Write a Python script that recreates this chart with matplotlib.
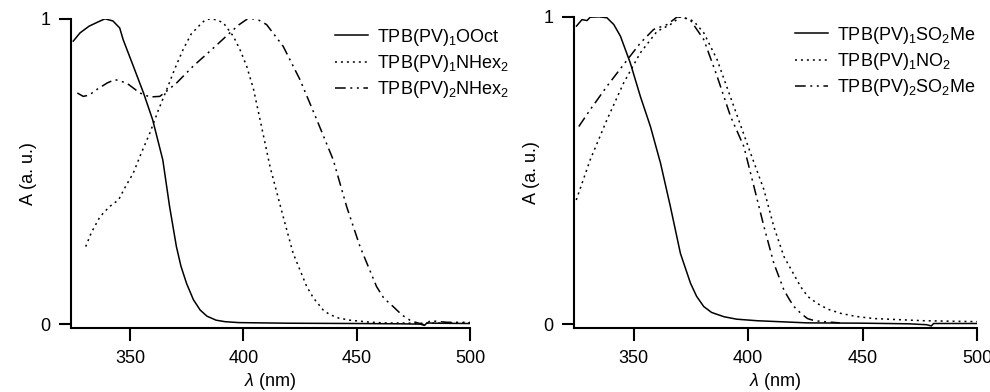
import matplotlib
matplotlib.use("Agg")
import matplotlib.pyplot as plt

plt.rcParams['font.family'] = ['Liberation Sans', 'DejaVu Sans']
plt.rcParams['mathtext.fontset'] = 'custom'
plt.rcParams['mathtext.rm'] = 'Liberation Sans'
plt.rcParams['mathtext.it'] = 'Liberation Sans:italic'
plt.rcParams['mathtext.bf'] = 'Liberation Sans:bold'

# --- left panel: TPB(PV)1OOct, TPB(PV)1NHex2, TPB(PV)2NHex2 ---
ooct_x = [325, 328, 332, 336, 339, 342.5, 345.5, 347, 351.5, 356, 360, 364.5, 367.5, 370.5, 372.5,
          375, 378, 381, 384, 388, 392, 398, 420, 450, 470, 478, 480, 481, 485, 500]
ooct_y = [0.927, 0.954, 0.976, 0.99, 1.0, 0.993, 0.97, 0.932, 0.845, 0.757, 0.67, 0.538, 0.385,
          0.254, 0.19, 0.133, 0.08, 0.046, 0.026, 0.013, 0.008, 0.005, 0.003, 0.002, 0.001, 0.0,
          -0.004, 0.004, 0.003, 0.002]

nhex1_x = [330.5, 333, 336.8, 341, 345, 348, 351.5, 355, 358.8, 362.5, 366.2, 370, 373.5, 377, 381,
           383, 385.3, 388, 391.2, 395.6, 398.5, 401.5, 404.5, 407.4, 411.8, 417.6, 422, 428, 431,
           435.3, 438, 442, 447, 455, 462, 480, 500]
nhex1_y = [0.254, 0.3, 0.352, 0.385, 0.407, 0.45, 0.495, 0.56, 0.626, 0.7, 0.768, 0.84, 0.9, 0.95,
           0.981, 0.995, 1.0, 0.997, 0.987, 0.943, 0.9, 0.845, 0.77, 0.67, 0.516, 0.352, 0.232,
           0.123, 0.085, 0.046, 0.032, 0.02, 0.013, 0.007, 0.004, 0.003, 0.004]

nhex2_x = [326.8, 329.4, 332, 335.3, 340, 343.4, 348.5, 354.4, 358.8, 363.2, 366.5, 370.6, 377.9,
           385.3, 394.1, 398, 401.5, 404.4, 407, 410.3, 417.6, 425, 432.4, 439.7, 445.6, 451.5,
           458.8, 462, 466.2, 470, 473.5, 476, 478, 480.1, 482.4, 490, 500]
nhex2_y = [0.757, 0.746, 0.75, 0.768, 0.79, 0.801, 0.79, 0.757, 0.744, 0.746, 0.765, 0.79, 0.845,
           0.894, 0.954, 0.98, 0.998, 1.0, 0.995, 0.981, 0.91, 0.801, 0.67, 0.538, 0.385, 0.254,
           0.123, 0.085, 0.057, 0.03, 0.013, 0.006, 0.002, -0.003, 0.011, 0.006, 0.006]

# --- right panel: TPB(PV)1SO2Me, TPB(PV)1NO2, TPB(PV)2SO2Me ---
so2me1_x = [325, 327.4, 329.6, 331, 335, 338.3, 341.3, 344.2, 348.5, 352.9, 357.3, 361.7, 366,
            370.4, 374.8, 377.5, 380.6, 384, 389.4, 395, 403.9, 425.8, 450, 470, 478, 480, 481,
            490, 500]
so2me1_y = [0.97, 0.991, 0.988, 0.999, 1.0, 0.997, 0.975, 0.937, 0.85, 0.741, 0.643, 0.524, 0.383,
            0.23, 0.133, 0.09, 0.057, 0.038, 0.024, 0.016, 0.011, 0.004, 0.003, 0.001, -0.002,
            -0.006, 0.002, 0.002, 0.002]

no2_x = [324.9, 331, 338.3, 345.6, 352.9, 360.2, 366, 370.4, 373, 376.2, 380.6, 386.4, 393.7, 401,
         406.9, 411.2, 415.6, 422.9, 426, 430.2, 435, 440.4, 447, 455, 476.8, 500]
no2_y = [0.404, 0.535, 0.665, 0.785, 0.883, 0.953, 0.975, 1.0, 0.995, 0.986, 0.948, 0.861, 0.709,
         0.557, 0.437, 0.317, 0.22, 0.122, 0.09, 0.067, 0.048, 0.035, 0.025, 0.018, 0.011, 0.008]

so2me2_x = [326, 331, 338.3, 345.6, 352.9, 358.7, 364.6, 369, 372, 374.8, 380.6, 386.4, 392.3,
            398.1, 402.5, 406.9, 411.2, 415.6, 418, 420, 423, 425.9, 429, 433.1, 440]
so2me2_y = [0.643, 0.698, 0.774, 0.845, 0.915, 0.959, 0.975, 1.0, 0.997, 0.989, 0.926, 0.807,
            0.676, 0.578, 0.448, 0.317, 0.198, 0.111, 0.08, 0.057, 0.035, 0.018, 0.011, 0.008,
            0.004]

left_labels = ['TPB(PV)$_1$OOct', 'TPB(PV)$_1$NHex$_2$', 'TPB(PV)$_2$NHex$_2$']
right_labels = ['TPB(PV)$_1$SO$_2$Me', 'TPB(PV)$_1$NO$_2$', 'TPB(PV)$_2$SO$_2$Me']

x_ticks = [350, 400, 450, 500]
y_ticks = [0, 1]

solid = '-'
dotted = (0, (1.3, 2.6))
dashdot = (0, (7, 3, 1.3, 3, 1.3, 3))

fig = plt.figure(figsize=(9.9, 3.92), dpi=100)
ax1 = fig.add_axes([0.0717, 0.163, 0.403, 0.789])
ax2 = fig.add_axes([0.580, 0.163, 0.407, 0.794])


def style(ax):
    for s in ['top', 'right']:
        ax.spines[s].set_visible(False)
    for s in ['left', 'bottom']:
        ax.spines[s].set_linewidth(1.5)
    ax.set_xlim(324, 500)
    ax.set_ylim(-0.013, 1.0)
    ax.set_xticks(x_ticks)
    ax.set_yticks(y_ticks)
    ax.tick_params(direction='out', length=9, width=1.5, labelsize=13)
    ax.tick_params(axis='x', pad=7)
    ax.tick_params(axis='y', pad=6)
    ax.set_xlabel(r'$\lambda$ (nm)', fontsize=13, labelpad=3)
    ax.set_ylabel('A (a. u.)', fontsize=13, labelpad=2)


lw = 1.1
ax1.plot(ooct_x, ooct_y, color='black', lw=lw, linestyle=solid, label=left_labels[0])
ax1.plot(nhex1_x, nhex1_y, color='black', lw=lw, linestyle=dotted, label=left_labels[1])
ax1.plot(nhex2_x, nhex2_y, color='black', lw=lw, linestyle=dashdot, label=left_labels[2])
style(ax1)
ax1.legend(loc='upper left', bbox_to_anchor=(0.662, 0.975), frameon=False, fontsize=13,
           handlelength=1.8, handletextpad=0.5, labelspacing=0.3, borderpad=0, borderaxespad=0)

ax2.plot(so2me1_x, so2me1_y, color='black', lw=lw, linestyle=solid, label=right_labels[0])
ax2.plot(no2_x, no2_y, color='black', lw=lw, linestyle=dotted, label=right_labels[1])
ax2.plot(so2me2_x, so2me2_y, color='black', lw=lw, linestyle=dashdot, label=right_labels[2])
style(ax2)
ax2.legend(loc='upper left', bbox_to_anchor=(0.548, 0.975), frameon=False, fontsize=13,
           handlelength=1.8, handletextpad=0.5, labelspacing=0.3, borderpad=0, borderaxespad=0)

fig.savefig('out.png', dpi=100)
